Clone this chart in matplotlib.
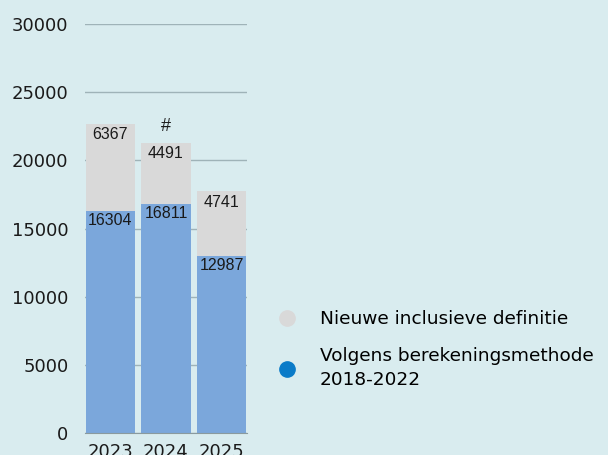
import matplotlib.pyplot as plt
from matplotlib.lines import Line2D

years = ["2023", "2024", "2025"]
oud = [16304, 16811, 12987]
nieuw = [6367, 4491, 4741]
markering = ["", "#", ""]

bg = "#d9ecef"
blauw = "#7ba7db"
grijs = "#d9d9d9"

fig = plt.figure(figsize=(6.08, 4.55), dpi=100, facecolor=bg)
ax = fig.add_axes([0.140, 0.0484, 0.266, 0.8986], facecolor=bg)

x = range(len(years))
ax.bar(x, oud, width=0.88, color=blauw, zorder=2)
ax.bar(x, nieuw, bottom=oud, width=0.88, color=grijs, zorder=2)

for i in x:
    ax.text(i, oud[i] - 150, str(oud[i]), ha="center", va="top",
            fontsize=11.5, family="Liberation Sans", color="#1a1a1a", zorder=3)
    top = oud[i] + nieuw[i]
    ax.text(i, top - 250, str(nieuw[i]), ha="center", va="top",
            fontsize=11.5, family="Liberation Sans", color="#1a1a1a", zorder=3)
    if markering[i]:
        ax.text(i, top + 550, markering[i], ha="center", va="bottom",
                fontsize=13, family="Liberation Sans", color="#1a1a1a")

ax.set_xlim(-0.45, 2.45)
ax.set_ylim(0, 30000)
ax.set_yticks(range(0, 30001, 5000))
ax.yaxis.grid(True, color="#9fb3b8", linewidth=1, zorder=0)
ax.set_axisbelow(True)
ax.set_xticks(list(x))
ax.set_xticklabels(years)
ax.tick_params(axis="both", length=0, labelsize=13, colors="#1a1a1a", pad=12)
ax.tick_params(axis="x", pad=7)
for lab in ax.get_xticklabels() + ax.get_yticklabels():
    lab.set_family("DejaVu Sans")
for s in ["top", "right", "left"]:
    ax.spines[s].set_visible(False)
ax.spines["bottom"].set_color("#8a9a9e")

handles = [
    Line2D([], [], marker="o", linestyle="", markersize=11, color=grijs),
    Line2D([], [], marker="o", linestyle="", markersize=11, color="#0a7bc8"),
]
leg = fig.legend(handles, ["Nieuwe inclusieve definitie", "Volgens berekeningsmethode\n2018-2022"],
                 loc="upper left", bbox_to_anchor=(0.414, 0.355), frameon=False,
                 prop={"family": "DejaVu Sans", "size": 13.3}, handletextpad=0.8,
                 labelspacing=1.05)
for t in leg.get_texts():
    t.set_linespacing(1.4)

fig.savefig("out.png", facecolor=bg)
